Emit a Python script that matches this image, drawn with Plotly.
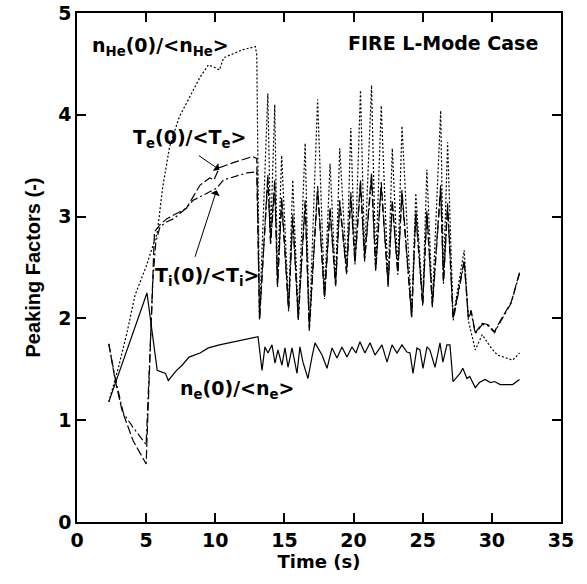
import plotly.graph_objects as go

# ---- data ----
t_nhe = [2.3, 3.0, 3.6, 4.2, 5.0, 5.8, 6.2, 6.7, 7.4, 8.2, 8.9, 9.5, 9.9, 10.3, 10.6, 11.3, 12.0, 12.9, 13.0,
         13.2, 13.8, 14.0, 14.3, 14.5, 14.8, 15.3, 15.6, 16.0, 16.5, 16.8, 17.4, 17.9, 18.3, 18.7, 19.0,
         19.5, 19.8, 20.1, 20.5, 20.8, 21.3, 21.6, 22.0, 22.5, 22.8, 23.2, 23.5, 24.2, 24.5, 25.0, 25.3,
         25.7, 26.3, 26.5, 26.8, 27.2, 28.0, 28.3, 28.8, 29.3, 29.9, 30.4, 31.1, 31.5, 32.0]
nhe = [1.18, 1.52, 1.85, 2.23, 2.51, 2.84, 3.29, 3.69, 3.98, 4.18, 4.37, 4.49, 4.47, 4.44, 4.56, 4.60, 4.64, 4.67, 4.59,
       2.01, 4.21, 2.79, 4.10, 2.35, 3.60, 2.11, 3.36, 2.01, 3.72, 1.90, 4.15, 2.23, 3.52, 2.35, 3.67,
       2.48, 3.87, 2.57, 4.24, 2.60, 4.29, 2.50, 4.09, 2.35, 3.67, 2.48, 3.89, 2.03, 3.23, 2.16, 3.46,
       2.15, 4.04, 2.38, 3.73, 2.01, 2.67, 1.98, 1.69, 1.84, 1.72, 1.64, 1.61, 1.59, 1.66]

t_te = [2.3, 2.75, 3.25, 4.05, 5.0, 5.5, 5.6, 6.0, 6.5, 7.2, 7.9, 8.9, 9.6, 9.9, 10.3, 11.3, 12.0, 12.7, 13.0,
        13.2, 13.8, 14.0, 14.3, 14.5, 14.8, 15.3, 15.6, 16.0, 16.5, 16.8, 17.4, 17.9, 18.3, 18.7, 19.0,
        19.5, 19.8, 20.1, 20.5, 20.8, 21.3, 21.6, 22.0, 22.5, 22.8, 23.2, 23.5, 24.2, 24.5, 25.0, 25.3,
        25.7, 26.3, 26.5, 26.8, 27.2, 28.0, 28.3, 28.5, 28.8, 29.3, 29.7, 30.2, 30.5, 31.4, 32.0]
te = [1.75, 1.40, 1.10, 0.80, 0.57, 2.45, 2.85, 2.92, 2.98, 3.03, 3.08, 3.31, 3.38, 3.36, 3.48, 3.53, 3.56, 3.59, 3.57,
      1.98, 3.41, 2.75, 3.36, 2.33, 3.19, 2.09, 3.02, 2.00, 3.16, 1.90, 3.30, 2.21, 3.09, 2.33, 3.16,
      2.45, 3.24, 2.55, 3.36, 2.58, 3.43, 2.48, 3.34, 2.33, 3.16, 2.45, 3.26, 2.02, 3.06, 2.14, 3.06,
      2.13, 3.31, 2.36, 3.13, 2.00, 2.57, 2.01, 2.08, 1.86, 1.95, 1.94, 1.87, 1.95, 2.16, 2.45]

t_ti = [2.3, 2.75, 3.35, 4.05, 5.0, 5.5, 5.7, 6.0, 6.5, 7.0, 7.7, 8.4, 9.4, 10.1, 10.6, 11.3, 12.3, 13.0,
        13.2, 13.8, 14.0, 14.3, 14.5, 14.8, 15.3, 15.6, 16.0, 16.5, 16.8, 17.4, 17.9, 18.3, 18.7, 19.0,
        19.5, 19.8, 20.1, 20.5, 20.8, 21.3, 21.6, 22.0, 22.5, 22.8, 23.2, 23.5, 24.2, 24.5, 25.0, 25.3,
        25.7, 26.3, 26.5, 26.8, 27.2, 28.0, 28.3, 28.5, 28.8, 29.3, 29.7, 30.2, 30.5, 31.4, 32.0]
ti = [1.75, 1.42, 1.07, 0.93, 0.76, 2.40, 2.75, 2.90, 2.95, 2.98, 3.06, 3.16, 3.23, 3.28, 3.36, 3.39, 3.43, 3.44,
      2.00, 3.36, 2.72, 3.30, 2.30, 3.14, 2.07, 2.98, 1.98, 3.12, 1.88, 3.26, 2.19, 3.05, 2.31, 3.12,
      2.43, 3.20, 2.53, 3.31, 2.56, 3.38, 2.46, 3.30, 2.31, 3.12, 2.43, 3.22, 2.00, 3.02, 2.12, 3.02,
      2.11, 3.27, 2.34, 3.10, 1.98, 2.55, 2.00, 2.06, 1.85, 1.94, 1.93, 1.86, 1.94, 2.15, 2.44]

t_ne = [2.3, 5.06, 5.8, 6.4, 6.6, 7.2, 7.6, 8.1, 8.9, 9.5, 10.3, 11.3, 12.3, 13.09,
        13.38, 13.59, 13.81, 14.10, 14.32, 14.53, 14.82, 15.04, 15.26, 15.55, 15.91, 16.12, 16.34, 16.70,
        16.99, 17.21, 17.72, 18.08, 18.44, 18.80, 19.16, 19.52, 19.88, 20.17, 20.46, 20.82, 21.19, 21.55,
        22.05, 22.42, 22.78, 23.14, 23.50, 23.86, 24.08, 24.30, 24.58, 24.80, 25.02, 25.31, 25.52, 25.89,
        26.25, 26.46, 26.75, 26.97, 27.19, 27.7, 27.9, 28.2, 28.4, 28.8, 29.1, 29.5, 29.9, 30.2, 30.6,
        31.5, 32.0]
ne = [1.18, 2.25, 1.49, 1.46, 1.39, 1.49, 1.54, 1.62, 1.66, 1.71, 1.74, 1.77, 1.80, 1.82,
      1.49, 1.72, 1.66, 1.74, 1.56, 1.69, 1.54, 1.71, 1.52, 1.71, 1.46, 1.72, 1.57, 1.41,
      1.62, 1.76, 1.64, 1.51, 1.71, 1.61, 1.72, 1.62, 1.72, 1.66, 1.77, 1.66, 1.76, 1.64,
      1.74, 1.57, 1.74, 1.66, 1.74, 1.67, 1.66, 1.46, 1.71, 1.69, 1.51, 1.72, 1.69, 1.52,
      1.76, 1.57, 1.74, 1.74, 1.38, 1.46, 1.51, 1.41, 1.43, 1.32, 1.37, 1.40, 1.37, 1.38, 1.35,
      1.35, 1.40]

x_ticks = [0, 5, 10, 15, 20, 25, 30, 35]
y_ticks = [0, 1, 2, 3, 4, 5]

FONT_H = "DejaVu Sans"
BLACK = "black"

fig = go.Figure()
fig.add_trace(go.Scatter(x=t_nhe, y=nhe, mode="lines", line=dict(color=BLACK, width=1.2, dash="2px,2px")))
fig.add_trace(go.Scatter(x=t_te, y=te, mode="lines", line=dict(color=BLACK, width=1.2, dash="9px,3px")))
fig.add_trace(go.Scatter(x=t_ti, y=ti, mode="lines", line=dict(color=BLACK, width=1.2, dash="8px,3px,2px,3px")))
fig.add_trace(go.Scatter(x=t_ne, y=ne, mode="lines", line=dict(color=BLACK, width=1.2)))

lab_font = dict(family=FONT_H, size=19, color=BLACK, weight="bold")
ann = [
    dict(x=0.95, y=4.67, text="n<sub>He</sub>(0)/<n<sub>He</sub>>", xanchor="left", showarrow=False, font=lab_font),
    dict(x=33.5, y=4.71, text="FIRE L-Mode Case", xanchor="right", showarrow=False, font=lab_font),
    dict(x=8.1, y=3.77, text="T<sub>e</sub>(0)/<T<sub>e</sub>>", showarrow=False, font=lab_font),
    dict(x=9.4, y=2.41, text="T<sub>i</sub>(0)/<T<sub>i</sub>>", showarrow=False, font=lab_font),
    dict(x=11.6, y=1.30, text="n<sub>e</sub>(0)/<n<sub>e</sub>>", showarrow=False, font=lab_font),
    dict(x=10.3, y=3.46, ax=8.7, ay=3.61, axref="x", ayref="y", text="", showarrow=True,
         arrowhead=1, arrowsize=1.6, arrowwidth=1, arrowcolor=BLACK),
    dict(x=10.1, y=3.26, ax=8.5, ay=2.59, axref="x", ayref="y", text="", showarrow=True,
         arrowhead=1, arrowsize=1.6, arrowwidth=1, arrowcolor=BLACK),
]

axis_common = dict(showline=True, linecolor=BLACK, linewidth=1.5, mirror="allticks", ticks="inside",
                   ticklen=9, tickwidth=1.5, tickcolor=BLACK, showgrid=False, zeroline=False,
                   automargin=False,
                   tickfont=dict(family=FONT_H, size=19, color=BLACK, weight="bold"))

fig.update_layout(
    width=587, height=584,
    margin=dict(l=77, r=26, t=13, b=62),
    paper_bgcolor="white", plot_bgcolor="white",
    showlegend=False,
    xaxis=dict(range=[0, 35], tickvals=x_ticks, ticktext=[str(v) for v in x_ticks],
               title=dict(text="Time (s)", standoff=6,
                          font=dict(family=FONT_H, size=18, color=BLACK, weight="bold")),
               **axis_common),
    yaxis=dict(range=[0, 5], tickvals=y_ticks, ticktext=[str(v) for v in y_ticks],
               title=dict(text="Peaking Factors (-)", standoff=12,
                          font=dict(family="Liberation Sans", size=20, color=BLACK, weight="bold")),
               **axis_common),
    annotations=ann,
)

# remove the browser's default 8px body margin so the figure fills the window
fig.write_html("out.html", config={"displayModeBar": False},
               post_script="document.body.style.margin='0';")
